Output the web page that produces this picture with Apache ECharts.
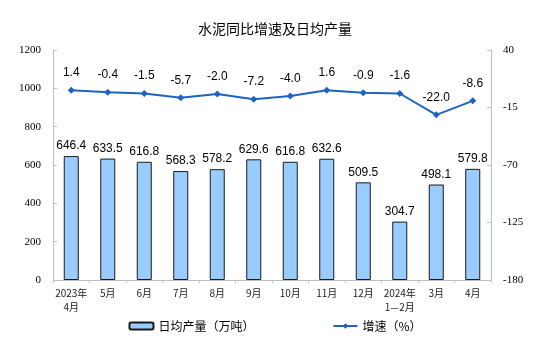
<!DOCTYPE html>
<html><head><meta charset="utf-8">
<script src="https://cdn.jsdelivr.net/npm/echarts@6/dist/echarts.min.js"></script>
<style>html,body{margin:0;padding:0;background:#fff}#c{width:550px;height:341px}</style>
</head><body><div id="c"></div>
<script>
const categories = ['2023年\n4月','5月','6月','7月','8月','9月','10月','11月','12月','2024年\n1—2月','3月','4月'];
const output = [646.4,633.5,616.8,568.3,578.2,629.6,616.8,632.6,509.5,304.7,498.1,579.8];
const growth = [1.4,-0.4,-1.5,-5.7,-2.0,-7.2,-4.0,1.6,-0.9,-1.6,-22.0,-8.6];
const leftTicks = [0,1200,200];
const rightTicks = [-180,40,55];

const chart = echarts.init(document.getElementById('c'));
chart.setOption({
  animation:false,
  title:{text:'水泥同比增速及日均产量',left:'center',top:17,textStyle:{fontSize:14,fontWeight:'normal',color:'#000',fontFamily:'Noto Sans CJK SC'}},
  grid:{left:53,right:59,top:50,bottom:61},
  legend:{bottom:4,left:'center',itemGap:78,itemWidth:24,itemHeight:7,
    textStyle:{fontSize:12,color:'#000',fontFamily:'Noto Sans CJK SC'},
    data:[{name:'日均产量（万吨）',icon:'roundRect'},{name:'增速（%）'}]},
  xAxis:{type:'category',data:categories,
    axisLine:{lineStyle:{color:'#bfbfbf'}},
    axisTick:{show:true,alignWithLabel:false,length:3,lineStyle:{color:'#bfbfbf'}},
    axisLabel:{fontSize:10,color:'#222',fontFamily:'Noto Sans CJK SC',interval:0,margin:6,lineHeight:14}},
  yAxis:[
    {type:'value',min:leftTicks[0],max:leftTicks[1],interval:leftTicks[2],
      axisLine:{show:true,lineStyle:{color:'#bfbfbf'}},
      axisTick:{show:true,inside:true,length:4,lineStyle:{color:'#bfbfbf'}},
      splitLine:{show:false},
      axisLabel:{fontSize:11,color:'#000',fontFamily:'Liberation Serif',margin:12,formatter:v=>String(v)}},
    {type:'value',min:rightTicks[0],max:rightTicks[1],interval:rightTicks[2],
      axisLine:{show:true,lineStyle:{color:'#bfbfbf'}},
      axisTick:{show:true,inside:true,length:4,lineStyle:{color:'#bfbfbf'}},
      splitLine:{show:false},
      axisLabel:{fontSize:11,color:'#000',fontFamily:'Liberation Serif',margin:12,formatter:v=>String(v)}}
  ],
  series:[
    {name:'日均产量（万吨）',type:'bar',data:output,barWidth:15,
      itemStyle:{color:'#99CCFF',borderColor:'#1a1a1a',borderWidth:1},
      label:{show:true,position:'top',distance:4,fontSize:12,color:'#000',fontFamily:'Liberation Sans',
        formatter:p=>p.value.toFixed(1)}},
    {name:'增速（%）',type:'line',yAxisIndex:1,data:growth,
      symbol:'diamond',symbolSize:7,
      lineStyle:{color:'#1F63C2',width:2},itemStyle:{color:'#1F63C2'},
      label:{show:true,position:'top',distance:8,fontSize:12,color:'#000',fontFamily:'Liberation Sans',
        formatter:p=>p.value.toFixed(1)}}
  ]
});
</script></body></html>
